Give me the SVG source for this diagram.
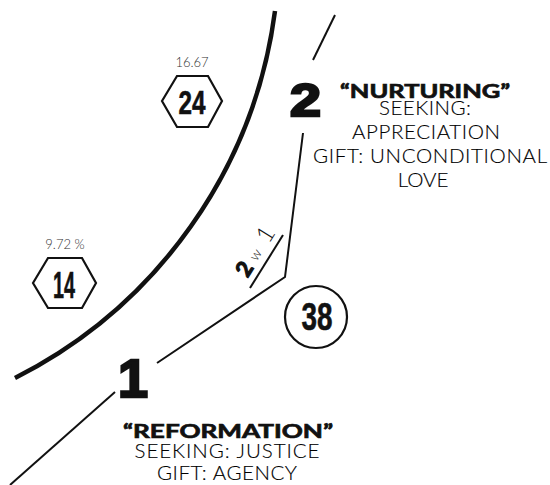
<svg xmlns="http://www.w3.org/2000/svg" width="550" height="485" viewBox="0 0 550 485">
  <style>
    .line { fill: none; stroke: #111; stroke-width: 2; stroke-linecap: butt; }
    .boundary { fill: none; stroke: #111; stroke-width: 4.5; }
    .shape { fill: #fff; stroke: #111; stroke-width: 2.2; }
    .hand { font-family: "Liberation Sans", Arial, sans-serif; font-weight: bold; fill: #111; stroke: #111; stroke-width: 0.6; text-anchor: middle; }
    .pct { font-family: Lato, "Open Sans", sans-serif; font-weight: 300; font-size: 13px; fill: #333; text-anchor: middle; }
    .big { font-family: "Liberation Sans", Arial, sans-serif; font-weight: bold; fill: #111; stroke: #111; stroke-width: 2.5; stroke-linejoin: miter; }
    .title { font-family: Lato, Inter, sans-serif; font-weight: bold; font-size: 19px; fill: #111; stroke: #111; stroke-width: 0.7; text-anchor: middle; }
    .body { font-family: Lato, "Open Sans", sans-serif; font-weight: 300; font-size: 20.5px; fill: #000; stroke: #000; stroke-width: 0.15; text-anchor: middle; }
    .wing { font-family: Lato, "Liberation Sans", sans-serif; fill: #111; }
  </style>

  <rect width="550" height="485" fill="#fff"/>

  <!-- connectors -->
  <g id="connectors">
    <path class="boundary" d="M275,11 A481,481 0 0 1 15,378"/>
    <path class="line" d="M335,15 L313,60"/>
    <path class="line" d="M303,133 L285,277 L157,363"/>
    <path class="line" d="M250,288 L283,235"/>
    <path class="line" d="M115,392 L10,485"/>
  </g>

  <!-- wing label set along the short stroke -->
  <g id="wing-label" transform="translate(247.5,278.5) rotate(-58)">
    <text class="wing" x="0" y="0" font-size="22" font-weight="bold" stroke="#111" stroke-width="1.2">2</text>
    <text class="wing" x="19" y="-1" font-size="14" font-weight="300">w</text>
    <text class="wing" x="40" y="0" font-size="24" font-weight="300">1</text>
  </g>

  <g id="node-24">
    <text class="pct" x="192" y="67">16.67</text>
    <polygon class="shape" points="162,101 177,76 208,76 222,101 208,127 177,127"/>
    <text class="hand" x="192" y="114" font-size="34" textLength="27" lengthAdjust="spacingAndGlyphs">24</text>
  </g>

  <g id="node-14">
    <text class="pct" x="65" y="249">9.72 %</text>
    <polygon class="shape" points="33,283 48,258 82,258 96,283 82,308 48,308"/>
    <text class="hand" x="64" y="298" font-size="37" textLength="22" lengthAdjust="spacingAndGlyphs">14</text>
  </g>

  <g id="node-38">
    <circle class="shape" cx="316" cy="317" r="31"/>
    <text class="hand" x="317" y="330" font-size="38" textLength="31" lengthAdjust="spacingAndGlyphs">38</text>
  </g>

  <g id="type-2">
    <text class="big" x="290" y="116" font-size="46" textLength="31" lengthAdjust="spacingAndGlyphs">2</text>
    <text class="title" x="425" y="98" textLength="170" lengthAdjust="spacingAndGlyphs">“NURTURING”</text>
    <text class="body" x="425" y="115" textLength="92">SEEKING:</text>
    <text class="body" x="426" y="139" textLength="148">APPRECIATION</text>
    <text class="body" x="430" y="163" textLength="234">GIFT: UNCONDITIONAL</text>
    <text class="body" x="423" y="187">LOVE</text>
  </g>

  <g id="type-1">
    <text class="big" x="133" y="397" font-size="54" text-anchor="middle">1</text>
    <text class="title" x="228" y="438" textLength="210" lengthAdjust="spacingAndGlyphs">“REFORMATION”</text>
    <text class="body" x="227" y="458" textLength="185">SEEKING: JUSTICE</text>
    <text class="body" x="227" y="480" textLength="140">GIFT: AGENCY</text>
  </g>
</svg>
